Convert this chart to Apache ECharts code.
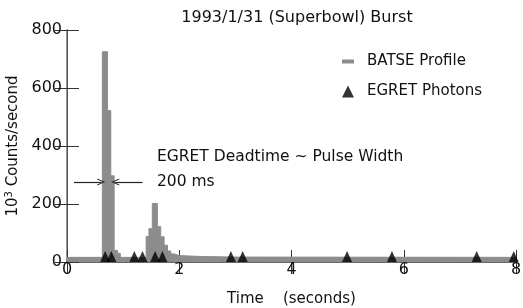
<!DOCTYPE html>
<html><head><meta charset="utf-8">
<script src="https://cdn.jsdelivr.net/npm/echarts@6/dist/echarts.min.js"></script>
<style>html,body{margin:0;padding:0;background:#fff}#c{width:523px;height:308px}</style>
</head><body><div id="c"></div>
<script>
// BATSE profile: bin start times (s) and rates (10^3 counts/s)
const batseTimes  = [0.00, 0.63, 0.72, 0.78, 0.84, 0.90, 0.95, 1.41, 1.46, 1.52, 1.61, 1.67, 1.73, 1.79, 1.85, 1.91, 2.00, 2.40, 3.00];
const batseCounts = [16,   725,  522,  297,  40,   30,   16,   88,   115,  202,  122,  87,   58,   38,   28,   22,   19,   17,   16];
const batseEnd = 8.0;
// EGRET photon arrival times (s)
const egretTimes = [0.68, 0.79, 1.20, 1.345, 1.57, 1.70, 2.92, 3.13, 4.99, 5.79, 7.30, 7.96];
const xTicks = [0, 2, 4, 6, 8];
const yTicks = [0, 200, 400, 600, 800];
// deadtime arrows (s, 10^3 counts/s)
const arrowLeft  = [[0.125, 276], [0.61, 276]];
const arrowRight = [[1.345, 276], [0.86, 276]];

const FONT = 'DejaVu Sans';
const batseData = batseTimes.map((t, i) => [t, batseCounts[i]]);
batseData.push([batseEnd, batseCounts[batseCounts.length - 1]]);
const egretData = egretTimes.map(t => [t, 0]);
const chevron = 'path://M0,10L5,0L10,10L8.6,10L5,3L1.4,10Z';

const chart = echarts.init(document.getElementById('c'), null, {renderer: 'canvas'});
const axisCommon = {
  axisTick: {inside: true, length: 12, lineStyle: {color: '#333', width: 1}},
  splitLine: {show: false}
};
chart.setOption({
  animation: false,
  backgroundColor: '#fff',
  title: {text: '1993/1/31 (Superbowl) Burst', left: 292, top: 5, textAlign: 'center',
    textStyle: {fontFamily: FONT, fontSize: 16, fontWeight: 'normal', color: '#111'}},
  grid: {left: 67, right: 7, top: 30, bottom: 46, containLabel: false, outerBoundsMode: 'none'},
  legend: [
    {data: ['BATSE Profile'], orient: 'vertical', left: 342, top: 54, itemWidth: 12, itemHeight: 4,
      icon: 'rect', padding: 0, textStyle: {fontFamily: FONT, fontSize: 15, color: '#111', padding: [0, 0, 0, 8]}},
    {data: ['EGRET Photons'], orient: 'vertical', left: 342, top: 84, itemWidth: 12, itemHeight: 12,
      icon: 'triangle', padding: 0, textStyle: {fontFamily: FONT, fontSize: 15, color: '#111', padding: [0, 0, 0, 8]}}
  ],
  xAxis: [
    Object.assign({type: 'value', min: xTicks[0], max: xTicks[xTicks.length - 1], interval: 2,
      name: 'Time    (seconds)', nameLocation: 'middle', nameGap: 30,
      nameTextStyle: {fontFamily: FONT, fontSize: 15, color: '#111'},
      axisLine: {lineStyle: {color: '#333', width: 1.5}},
      axisLabel: {fontFamily: FONT, fontSize: 16, color: '#111', margin: 0}}, axisCommon),
    Object.assign({type: 'value', position: 'top', min: xTicks[0], max: xTicks[xTicks.length - 1], interval: 2,
      axisLine: {lineStyle: {color: '#666', width: 1}}, axisLabel: {show: false}}, axisCommon)
  ],
  yAxis: [
    Object.assign({type: 'value', min: yTicks[0], max: yTicks[yTicks.length - 1], interval: 200,
      name: '10{sup|3} Counts/second', nameLocation: 'middle', nameGap: 45,
      nameTextStyle: {fontFamily: FONT, fontSize: 15, color: '#111',
        rich: {sup: {fontFamily: FONT, fontSize: 10, verticalAlign: 'top', padding: [0, 0, 8, 0], color: '#111'}}},
      axisLine: {lineStyle: {color: '#777', width: 1.5}},
      axisLabel: {fontFamily: FONT, fontSize: 16, color: '#111', margin: 5}}, axisCommon),
    Object.assign({type: 'value', position: 'right', min: yTicks[0], max: yTicks[yTicks.length - 1], interval: 200,
      axisLine: {show: true, lineStyle: {color: '#555', width: 1}}, axisLabel: {show: false}}, axisCommon)
  ],
  series: [
    {name: 'BATSE Profile', type: 'line', step: 'end', data: batseData, showSymbol: false, symbol: 'none',
      xAxisIndex: 0, yAxisIndex: 0,
      itemStyle: {color: '#8c8c8c'},
      lineStyle: {color: '#8c8c8c', width: 1},
      areaStyle: {color: '#8c8c8c', opacity: 1},
      z: 2,
      markLine: {silent: true, animation: false, symbol: ['none', chevron], symbolSize: [7, 8],
        label: {show: false},
        lineStyle: {color: '#222', width: 1.2, type: 'solid'},
        data: [
          [{coord: arrowLeft[0]}, {coord: arrowLeft[1]}],
          [{coord: arrowRight[0]}, {coord: arrowRight[1]}]
        ]}},
    {name: 'EGRET Photons', type: 'scatter', data: egretData, symbol: 'triangle',
      symbolSize: [10, 11], symbolOffset: [0, -5.5], xAxisIndex: 0, yAxisIndex: 0,
      itemStyle: {color: '#000'}, z: 5, clip: false}
  ],
  graphic: [
    {type: 'text', x: 157, y: 157, style: {text: 'EGRET Deadtime ~ Pulse Width', fontFamily: FONT, fontSize: 15.5,
      fill: '#111', verticalAlign: 'middle'}},
    {type: 'text', x: 157, y: 182, style: {text: '200 ms', fontFamily: FONT, fontSize: 15.5,
      fill: '#111', verticalAlign: 'middle'}}
  ]
});
</script></body></html>
